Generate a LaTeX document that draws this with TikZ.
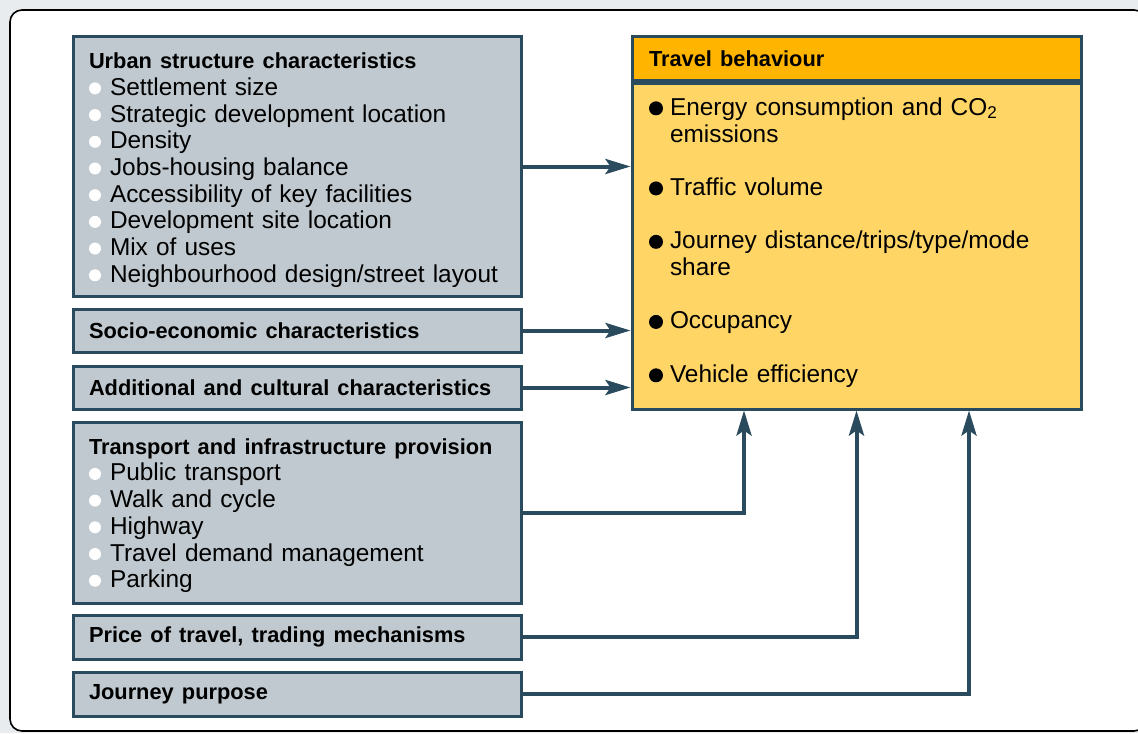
\documentclass[tikz,border=0pt]{standalone}
\usepackage{fontspec}
\setmainfont{Liberation Sans}
\usetikzlibrary{arrows.meta}

\definecolor{edge}{HTML}{2A4A5E}
\definecolor{greyfill}{HTML}{BFC9CF}
\definecolor{headfill}{HTML}{FFB500}
\definecolor{bodyfill}{HTML}{FFD566}
\definecolor{bg}{HTML}{E8ECEF}

\newcommand\wbul{\tikz[baseline={(0,-3.5pt)}]\fill[white] (0,0) circle (3pt);\hspace{4.5pt}}
\newcommand\bbul{\tikz[baseline={(0,-3.5pt)}]\fill[black] (0,0) circle (3.5pt);\hspace{3.5pt}}
\newcommand\hd[1]{{\bfseries\fontsize{10.9}{13.35}\selectfont #1}}

\begin{document}
\begin{tikzpicture}[x=0.5pt, y=-0.5pt,
  box/.style={draw=edge, line width=1.5pt, fill=greyfill, anchor=north west,
    minimum width=224pt, text width=208pt, inner xsep=8pt, inner ysep=0pt,
    align=left, font=\fontsize{12.2}{13.35}\selectfont},
  tbbox/.style={box, minimum width=224.5pt, text width=207.5pt, inner xsep=8.5pt},
  arr/.style={draw=edge, line width=2pt, -{Stealth[length=12.5pt, width=7.5pt, inset=2.5pt]}}]
\useasboundingbox (0,0) rectangle (1138,733);
\fill[bg] (0,0) rectangle (1138,733);
\draw[fill=white, line width=0.8pt, rounded corners=6pt] (10,10) rectangle (1146,731);

% factors on the left
\node[box, minimum height=129.5pt] (urban) at (71.5,35.5) {\hd{\rule{0pt}{11.5pt}Urban structure characteristics}\\
  \wbul Settlement size\\
  \wbul Strategic development location\\
  \wbul Density\\
  \wbul Jobs-housing balance\\
  \wbul Accessibility of key facilities\\
  \wbul Development site location\\
  \wbul Mix of uses\\
  \wbul Neighbourhood design/street layout};
\node[box, minimum height=21.5pt] (socio) at (71.5,307.5) {\hd{Socio-economic characteristics}};
\node[box, minimum height=21.5pt] (addit) at (71.5,364.5) {\hd{Additional and cultural characteristics}};
\node[box, minimum height=90.5pt] (trans) at (71.5,420.5) {\hd{\rule{0pt}{11pt}Transport and infrastructure provision}\\
  \wbul Public transport\\
  \wbul Walk and cycle\\
  \wbul Highway\\
  \wbul Travel demand management\\
  \wbul Parking};
\node[box, minimum height=22pt] (price) at (71.5,613.5) {\hd{Price of travel, trading mechanisms}};
\node[box, minimum height=22pt] (purpose) at (71.5,670.5) {\hd{Journey purpose}};

% travel behaviour
\node[tbbox, fill=headfill, minimum height=22pt] (tbhead) at (630.5,35.5) {\hd{Travel behaviour}};
\node[tbbox, fill=bodyfill, anchor=north, minimum height=162.5pt] (tbbody) at (tbhead.south) {%
  \bbul Energy consumption and CO\textsubscript{2}\\
  \hspace*{10.5pt}emissions\\[13.35pt]
  \bbul Traffic volume\\[13.35pt]
  \bbul Journey distance/trips/type/mode\\
  \hspace*{10.5pt}share\\[13.35pt]
  \bbul Occupancy\\[13.35pt]
  \bbul Vehicle efficiency\rule[-6.5pt]{0pt}{1pt}};

\draw[arr] (urban.east) -- (urban.east -| tbbody.west);
\draw[arr] (socio.east) -- (socio.east -| tbbody.west);
\draw[arr] (addit.east) -- (addit.east -| tbbody.west);
\draw[arr] (trans.east) -| ([xshift=-56.25pt]tbbody.south);
\draw[arr] (price.east) -| (tbbody.south);
\draw[arr] (purpose.east) -| ([xshift=56.25pt]tbbody.south);
\end{tikzpicture}
\end{document}
